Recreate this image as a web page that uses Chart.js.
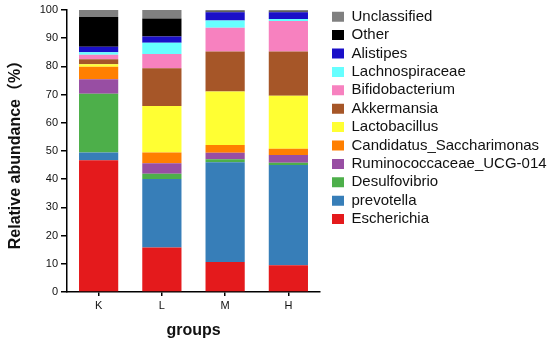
<!DOCTYPE html>
<html><head><meta charset="utf-8">
<script src="https://cdn.jsdelivr.net/npm/chart.js@4"></script>
<style>html,body{margin:0;padding:0;background:#fff;}canvas{display:block;}</style>
</head><body>
<canvas id="c" width="550" height="346"></canvas>
<script>
const groups = ['K', 'L', 'M', 'H'];
const escherichia     = [46.7, 15.8, 10.6, 9.5];
const prevotella      = [2.8, 24.3, 35.4, 35.5];
const desulfovibrio   = [20.8, 1.8, 1.1, 0.8];
const ruminococcaceae = [5.1, 3.8, 2.3, 2.8];
const candidatus      = [4.5, 3.8, 2.7, 2.2];
const lactobacillus   = [0.9, 16.5, 19.0, 18.8];
const akkermansia     = [1.7, 13.3, 14.2, 15.7];
const bifidobacterium = [1.6, 5.1, 8.4, 10.8];
const lachnospiraceae = [0.9, 4.0, 2.6, 0.7];
const alistipes       = [2.0, 2.2, 2.9, 2.4];
const other           = [10.5, 6.4, 0.3, 0.3];
const unclassified    = [2.5, 3.0, 0.5, 0.5];
const yTicks = [0, 10, 20, 30, 40, 50, 60, 70, 80, 90, 100];

const FONT = '"Liberation Sans", Arial, "Noto Sans CJK SC", sans-serif';

const series = [
  ['Escherichia', escherichia, '#e41a1c'],
  ['prevotella', prevotella, '#377eb8'],
  ['Desulfovibrio', desulfovibrio, '#4daf4a'],
  ['Ruminococcaceae_UCG-014', ruminococcaceae, '#984ea3'],
  ['Candidatus_Saccharimonas', candidatus, '#ff7f00'],
  ['Lactobacillus', lactobacillus, '#ffff33'],
  ['Akkermansia', akkermansia, '#a65628'],
  ['Bifidobacterium', bifidobacterium, '#f781bf'],
  ['Lachnospiraceae', lachnospiraceae, '#66ffff'],
  ['Alistipes', alistipes, '#1a0fc8'],
  ['Other', other, '#000000'],
  ['Unclassified', unclassified, '#808080']
];

const legendTweak = {
  id: 'legendTweak',
  beforeInit(chart) {
    const lg = chart.legend;
    const fit = lg.fit;
    lg.fit = function () { fit.call(this); this.width = 230; };
  },
  afterLayout(chart) {
    const lg = chart.legend;
    const w = lg.right - lg.left, h = lg.bottom - lg.top;
    lg.left = 328.6; lg.right = lg.left + w;
    lg.top = 5.8; lg.bottom = lg.top + h;
  }
};

new Chart(document.getElementById('c'), {
  type: 'bar',
  data: {
    labels: groups,
    datasets: series.map(([label, data, color]) => ({
      label, data, backgroundColor: color, borderWidth: 0,
      barPercentage: 0.62, categoryPercentage: 1.0
    }))
  },
  options: {
    responsive: false,
    animation: false,
    devicePixelRatio: 1,
    layout: { padding: { top: 10, left: 0, right: 0, bottom: 0 } },
    plugins: {
      tooltip: { enabled: false },
      legend: {
        position: 'right',
        align: 'start',
        reverse: true,
        labels: {
          boxWidth: 12, boxHeight: 10, padding: 3.4,
          color: '#111',
          font: { family: FONT, size: 15 }
        }
      }
    },
    scales: {
      x: {
        stacked: true,
        afterFit(s) { s.height = 54; },
        grid: { display: true, drawOnChartArea: false, drawTicks: true, tickLength: 4, offset: false, color: '#000', lineWidth: 1.5 },
        border: { display: true, color: '#000', width: 1.5 },
        ticks: { color: '#111', padding: 3, font: { family: FONT, size: 11 } },
        title: { display: true, text: 'groups', color: '#111', padding: { top: 0, bottom: 6 }, font: { family: FONT, size: 16, weight: 'bold' } }
      },
      y: {
        stacked: true,
        min: 0, max: 100,
        afterFit(s) { s.width = 67; },
        afterBuildTicks(s) { s.ticks = yTicks.map(v => ({ value: v })); },
        grid: { display: true, drawOnChartArea: false, drawTicks: true, tickLength: 6, color: '#000', lineWidth: 1.5 },
        border: { display: true, color: '#000', width: 1.5 },
        ticks: { color: '#111', padding: 3, font: { family: FONT, size: 11 } },
        title: { display: true, text: 'Relative abundance（%）', color: '#111', padding: { top: 6.4, bottom: 0 }, font: { family: FONT, size: 16, weight: 'bold' } }
      }
    }
  },
  plugins: [legendTweak]
});
</script>
</body></html>
